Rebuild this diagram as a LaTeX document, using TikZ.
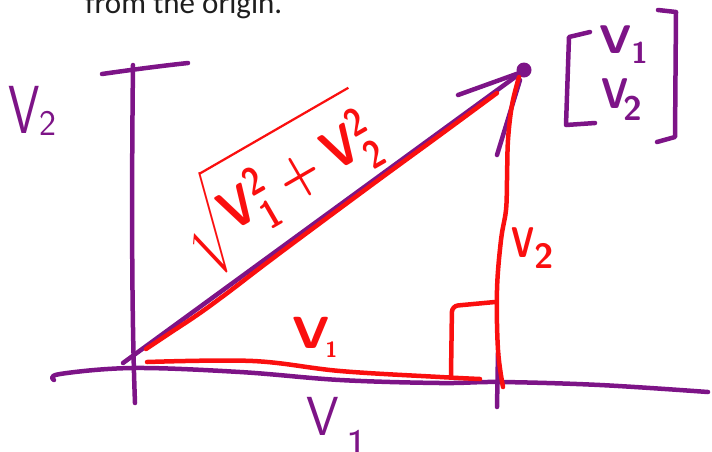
\documentclass[tikz,border=0pt]{standalone}
\usepackage{fontspec}
\newfontfamily\calib{Carlito}
\definecolor{inkpurple}{RGB}{125,20,135}
\definecolor{inkred}{RGB}{250,15,15}
\definecolor{captext}{RGB}{30,30,30}
\newcommand{\Vsub}[5]{\scalebox{#1}[1]{\fontsize{#2}{#2}\selectfont V}{\fontsize{#3}{#3}\selectfont\raisebox{#5}{#4}}}
\newcommand{\hypexpr}{\scalebox{4.6}[5.6]{\boldmath$\sqrt{\mathsf{V}_{\mathsf{1}}^{\mathsf{2}}+\mathsf{V}_{\mathsf{2}}^{\mathsf{2}}}$}}
\begin{document}
\begin{tikzpicture}[x=1pt,y=-1pt,
  pstroke/.style={draw=inkpurple,line width=4.5pt,line cap=round,line join=round},
  rstroke/.style={draw=inkred,line width=4.5pt,line cap=round,line join=round},
  plabel/.style={text=inkpurple,font=\sffamily\bfseries,inner sep=0pt,anchor=base west},
  rlabel/.style={text=inkred,font=\sffamily\bfseries,inner sep=0pt,anchor=base west}]
\useasboundingbox (0,0) rectangle (712,451);
% caption
\node[anchor=base west,inner sep=0pt,text=captext,font=\calib\fontsize{31}{31}\selectfont] (cap) at (85,13) {from the origin.};
% axes
\draw[pstroke] (102,74) .. controls (130,70) and (160,66) .. (188,63);
\draw[pstroke] (133,65) .. controls (132,150) and (131,300) .. (135,403);
\draw[pstroke] plot[smooth,tension=0.6] coordinates {(54,380) (60,374) (133,368) (240,372) (340,380) (440,383) (500,382) (600,385) (708,392)};
\draw[pstroke] (498,353) -- (497,407);
% purple vector
\draw[pstroke] (123,363) -- (522,72);
\draw[pstroke] (458,95) -- (522,72);
\draw[pstroke] (497,155) -- (520,80);
\fill[inkpurple] (524,70) circle (7.5);
% red triangle
\draw[rstroke] plot[smooth,tension=0.6] coordinates {(146,349) (170,333) (200,313) (230,291) (260,268) (300,238) (377,181) (440,135) (497,93)};
\draw[rstroke] plot[smooth,tension=0.6] coordinates {(519,77) (512,105) (508,140) (507,180) (506,210) (501,240) (497,290) (498,350) (503,387)};
\draw[rstroke,rounded corners=6pt] (495,302) -- (452,306) -- (451,375);
\draw[rstroke] plot[smooth,tension=0.6] coordinates {(147,362) (253,361) (340,371) (440,377) (480,379)};
% bracket matrix
\draw[pstroke] (590,32) -- (569,37) -- (566,125) -- (595,123);
\draw[pstroke] (658,10) -- (676,12) -- (675,137) -- (657,142);
% labels
\node[plabel,font=\sffamily] (lv2) at (8,133) {\Vsub{0.74}{68}{36}{2}{-2pt}};
\node[plabel,font=\sffamily] (bv1) at (306,435) {\Vsub{0.95}{55}{45}{\kern8pt 1}{-25pt}};
\node[plabel] (mv1) at (599,53) {\Vsub{1.1}{40}{30}{1}{-10pt}};
\node[plabel] (mv2) at (601,108) {\Vsub{0.86}{43}{34}{\kern-5pt 2}{-12pt}};
\node[rlabel] (rv2) at (511,257) {\Vsub{0.73}{43}{35}{2}{-11pt}};
\node[rlabel] (rv1) at (292,348) {\Vsub{1.13}{45}{22}{\kern-4pt 1}{-9pt}};
\node[text=inkred,inner sep=0pt,rotate=30,font=\sffamily] (hyp) at (278,184) {\hypexpr};
\end{tikzpicture}
\end{document}
